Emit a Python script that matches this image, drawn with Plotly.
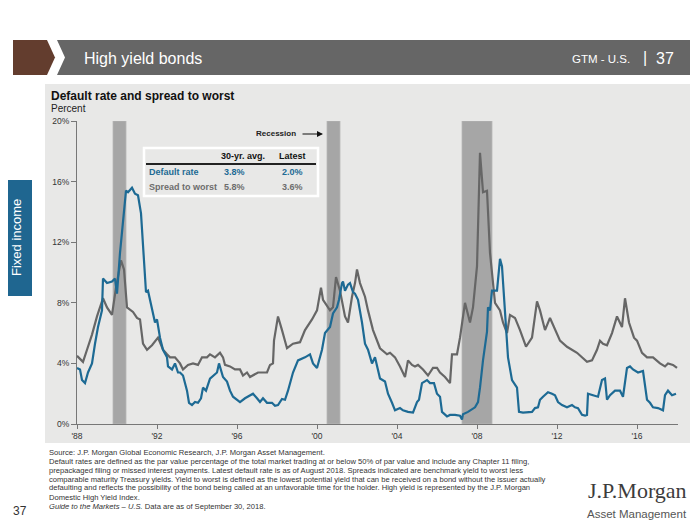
import plotly.graph_objects as go

# ---------------- data ----------------
default_years = [1988.00,1988.15,1988.25,1988.40,1988.55,1988.75,1988.90,1989.05,1989.25,1989.30,1989.50,1989.75,1989.90,1990.00,
    1990.15,1990.30,1990.45,1990.55,1990.75,1990.90,1991.05,1991.20,1991.30,1991.45,1991.55,1991.75,1991.90,1992.00,1992.15,
    1992.30,1992.50,1992.55,1992.75,1992.90,1993.05,1993.15,1993.30,1993.50,1993.60,1993.75,1993.90,1994.05,1994.20,1994.30,
    1994.45,1994.65,1994.80,1995.00,1995.10,1995.25,1995.30,1995.50,1995.65,1995.80,1996.00,1996.15,1996.40,1996.55,1996.80,
    1997.00,1997.15,1997.30,1997.50,1997.75,1997.90,1998.05,1998.25,1998.40,1998.55,1998.80,1999.05,1999.40,1999.65,1999.80,
    2000.00,2000.25,2000.40,2000.65,2000.80,2001.00,2001.10,2001.25,2001.30,2001.40,2001.55,2001.65,2001.80,2001.90,2002.05,
    2002.25,2002.40,2002.55,2002.75,2002.90,2003.05,2003.15,2003.40,2003.55,2003.75,2003.90,2004.15,2004.30,2004.55,2004.80,
    2005.00,2005.10,2005.25,2005.50,2005.65,2005.85,2006.00,2006.15,2006.25,2006.50,2006.65,2006.90,2007.15,2007.25,2007.30,
    2007.55,2007.90,2008.05,2008.15,2008.30,2008.50,2008.55,2008.65,2008.75,2009.00,2009.15,2009.25,2009.35,2009.45,2009.55,
    2009.75,2010.00,2010.10,2010.30,2010.75,2010.90,2011.05,2011.15,2011.30,2011.55,2011.75,2011.90,2012.05,2012.25,2012.50,
    2012.75,2012.90,2013.05,2013.25,2013.40,2013.50,2013.55,2013.80,2014.05,2014.25,2014.40,2014.50,2014.65,2014.90,2015.15,
    2015.30,2015.50,2015.65,2015.80,2016.05,2016.30,2016.50,2016.65,2016.80,2017.05,2017.30,2017.40,2017.55,2017.75,2017.95]
default_rate = [3.7,3.6,2.9,2.7,3.4,4.0,5.3,6.4,7.5,9.6,9.3,9.4,9.6,8.6,
    11.3,13.5,15.4,15.3,15.6,15.2,15.1,13.9,11.5,8.7,8.8,7.7,6.7,6.9,5.7,
    4.9,4.4,3.8,3.6,4.0,3.4,3.4,3.2,2.2,1.4,1.25,1.45,1.4,1.7,2.4,
    2.2,3.0,3.2,3.4,4.0,3.4,3.1,2.8,2.2,1.8,1.6,1.45,1.7,1.8,2.0,
    1.7,1.45,1.7,1.4,1.4,1.2,1.25,1.65,1.6,2.2,3.4,4.2,4.4,4.6,4.0,
    3.7,4.9,6.0,6.4,7.3,7.7,8.2,9.3,9.4,8.8,9.2,9.3,8.7,8.6,8.2,
    6.7,5.3,4.9,4.0,4.4,3.6,3.0,2.8,2.0,1.4,0.9,1.05,0.9,0.8,0.75,
    1.45,1.6,2.7,2.9,2.7,2.7,2.0,1.8,0.8,0.5,0.6,0.6,0.55,0.3,0.65,
    0.8,1.1,1.45,2.4,4.2,6.1,7.7,7.5,8.8,8.8,10.9,10.4,8.4,7.1,4.4,
    2.9,2.4,0.8,0.75,0.8,1.05,1.1,1.6,1.8,2.1,2.0,1.9,1.45,1.25,1.1,
    1.25,1.1,1.05,0.6,0.55,0.6,2.0,1.9,1.8,2.9,3.0,1.6,1.9,2.2,2.2,
    1.8,3.7,3.8,3.6,3.4,3.5,1.6,1.4,1.1,1.05,0.9,1.9,2.2,1.9,2.0]

spread_years = [1988.00,1988.15,1988.30,1988.50,1988.75,1989.00,1989.30,1989.50,1989.75,1989.95,1990.20,1990.35,1990.50,1990.80,
    1991.00,1991.15,1991.30,1991.50,1991.75,1992.05,1992.30,1992.50,1992.65,1992.90,1993.15,1993.30,1993.55,1993.80,1994.05,
    1994.25,1994.50,1994.65,1994.90,1995.15,1995.30,1995.40,1995.65,1995.90,1996.15,1996.30,1996.50,1996.65,1996.80,1997.05,
    1997.25,1997.50,1997.65,1997.80,1997.85,1998.05,1998.25,1998.50,1998.80,1999.15,1999.40,1999.75,2000.00,2000.20,2000.30,
    2000.65,2000.80,2000.95,2001.15,2001.40,2001.55,2001.75,2001.90,2002.00,2002.15,2002.40,2002.55,2002.80,2003.15,2003.30,
    2003.50,2003.65,2003.90,2004.15,2004.30,2004.40,2004.55,2004.75,2004.90,2005.05,2005.30,2005.55,2005.80,2006.00,2006.15,
    2006.40,2006.65,2006.75,2007.00,2007.15,2007.40,2007.65,2007.80,2008.00,2008.15,2008.30,2008.50,2008.65,2008.90,2009.15,
    2009.30,2009.50,2009.65,2009.90,2010.15,2010.45,2010.75,2011.00,2011.15,2011.40,2011.65,2012.00,2012.15,2012.50,2013.00,
    2013.50,2013.75,2014.00,2014.15,2014.30,2014.50,2014.75,2015.00,2015.25,2015.40,2015.60,2015.85,2016.00,2016.25,2016.50,
    2016.80,2017.15,2017.40,2017.55,2017.80,2018.00]
spread_to_worst = [4.5,4.3,4.1,4.9,5.9,7.1,8.3,7.7,7.2,9.0,10.8,10.2,7.7,7.4,
    7.0,6.9,5.3,4.9,5.2,5.7,4.9,4.6,4.4,4.4,4.0,3.6,3.9,4.0,3.9,
    4.4,4.4,4.6,4.4,4.7,4.4,3.9,3.8,3.6,3.6,3.2,3.4,3.1,3.2,3.4,
    3.4,3.4,3.9,4.0,5.5,7.1,6.2,5.0,5.3,5.4,6.2,6.9,7.5,9.0,8.2,
    7.5,7.7,9.7,8.8,7.1,6.7,8.4,9.3,10.2,9.3,8.4,7.5,6.2,5.0,4.8,
    4.6,4.7,4.4,3.8,3.4,3.1,4.2,3.9,3.8,3.9,3.6,3.2,3.7,3.7,3.4,
    3.1,2.7,4.6,4.6,5.7,8.0,6.7,7.7,10.4,17.9,15.3,15.4,11.3,8.0,7.5,
    6.7,6.0,7.2,7.0,6.2,5.1,5.7,8.1,7.5,6.2,7.0,5.9,5.5,5.1,4.7,
    4.1,4.2,4.9,5.5,5.3,5.2,6.0,7.1,6.4,8.3,6.7,5.7,5.5,4.7,4.4,
    4.4,4.0,3.8,4.0,3.9,3.7]

recession_start = [1989.80, 2000.50, 2007.25]
recession_end = [1990.45, 2001.15, 2008.75]

x_tick_years = [1988, 1992, 1996, 2000, 2004, 2008, 2012, 2016]
x_tick_labels = ["'88", "'92", "'96", "'00", "'04", "'08", "'12", "'16"]
y_tick_vals = [0, 4, 8, 12, 16, 20]
y_tick_labels = ["0%", "4%", "8%", "12%", "16%", "20%"]

table_rows = ["Default rate", "Spread to worst"]
table_avg = ["3.8%", "5.8%"]
table_latest = ["2.0%", "3.6%"]

# ---------------- style / layout ----------------
W, H = 700, 525
PAGE_OFF = 8                      # browser body margin
L, R, T, B = 77, 678, 121, 424   # plot area in page pixels
BLUE = "#1d6a94"
GRAY = "#666666"
SANS = "Liberation Sans, Arial, sans-serif"

def px(x):
    return (x - L) / (R - L)

def py(y):
    return (B - y) / (B - T)

fig = go.Figure()

fig.add_trace(go.Scatter(x=spread_years, y=spread_to_worst, mode="lines",
                         line=dict(color=GRAY, width=2.2), name="Spread to worst", hoverinfo="skip"))
fig.add_trace(go.Scatter(x=default_years, y=default_rate, mode="lines",
                         line=dict(color=BLUE, width=2.2), name="Default rate", hoverinfo="skip"))

shapes = []
# panel background
shapes.append(dict(type="rect", xref="paper", yref="paper", x0=px(45), x1=px(690), y0=py(443), y1=py(84),
                   fillcolor="#e8e8e7", line=dict(width=0), layer="below"))
# header
shapes.append(dict(type="path", xref="paper", yref="paper",
                   path=f"M {px(13)},{py(40)} L {px(47)},{py(40)} L {px(55)},{py(57.5)} L {px(47)},{py(75)} L {px(13)},{py(75)} Z",
                   fillcolor="#633d2e", line=dict(width=0), layer="below"))
shapes.append(dict(type="path", xref="paper", yref="paper",
                   path=f"M {px(57)},{py(40)} L {px(690)},{py(40)} L {px(690)},{py(75)} L {px(57)},{py(75)} L {px(65)},{py(57.5)} Z",
                   fillcolor="#666666", line=dict(width=0), layer="below"))
# left tab
shapes.append(dict(type="rect", xref="paper", yref="paper", x0=px(0), x1=px(32), y0=py(296), y1=py(180),
                   fillcolor="#1f6690", line=dict(width=0), layer="below"))
# recession bars
for s, e in zip(recession_start, recession_end):
    shapes.append(dict(type="rect", xref="x", yref="y", x0=s, x1=e, y0=0, y1=20,
                       fillcolor="#a6a6a6", line=dict(color="#b8b8b8", width=0.8), layer="below"))
# table frame
shapes.append(dict(type="rect", xref="paper", yref="paper", x0=px(144), x1=px(318), y0=py(196), y1=py(148),
                   line=dict(color="white", width=2.5), fillcolor="rgba(0,0,0,0)"))
shapes.append(dict(type="line", xref="paper", yref="paper", x0=px(146), x1=px(316), y0=py(164), y1=py(164),
                   line=dict(color="#222222", width=2)))
fig.update_layout(shapes=shapes)

ann = []
def text(x, y, s, size, color="#222222", family=SANS, xanchor="left", yanchor="middle", **kw):
    ann.append(dict(xref="paper", yref="paper", x=px(x), y=py(y), text=s, showarrow=False,
                    xanchor=xanchor, yanchor=yanchor, font=dict(size=size, color=color, family=family), **kw))

# header text
text(82, 58, "High yield bonds", 16, "white")
text(632, 59, "GTM - U.S.", 11.5, "white", xanchor="right")
text(645, 57, "|", 16, "white", xanchor="center")
text(676, 58, "37", 16, "white", xanchor="right")
# left tab text
ann.append(dict(xref="paper", yref="paper", x=px(16), y=py(238), text="Fixed income", showarrow=False,
                textangle=-90, xanchor="center", yanchor="middle",
                font=dict(size=13, color="white", family=SANS)))
# titles
text(49, 96, "<b>Default rate and spread to worst</b>", 12, "#111111")
text(49, 108, "Percent", 10, "#222222")
# recession label + arrow
text(298, 134, "<b>Recession</b>", 8, "#222222", xanchor="right")
ann.append(dict(xref="paper", yref="paper", axref="pixel", ayref="pixel",
                x=px(323), y=py(134), ax=-22, ay=0, text="", showarrow=True,
                arrowhead=2, arrowsize=1, arrowwidth=1.2, arrowcolor="#111111"))
# table
text(243, 156, "<b>30-yr. avg.</b>", 9, "#111111", xanchor="center")
text(292, 156, "<b>Latest</b>", 9, "#111111", xanchor="center")
row_y = [172, 187]
row_col = [BLUE, "#6d6d6d"]
for lab, a, l, yy, c in zip(table_rows, table_avg, table_latest, row_y, row_col):
    text(147, yy, f"<b>{lab}</b>", 9, c)
    text(234, yy, f"<b>{a}</b>", 9, c, xanchor="center")
    text(292, yy, f"<b>{l}</b>", 9, c, xanchor="center")

# footnotes
foot = [
    "Source: J.P. Morgan Global Economic Research, J.P. Morgan Asset Management.",
    "Default rates are defined as the par value percentage of the total market trading at or below 50% of par value and include any Chapter 11 filing,",
    "prepackaged filing or missed interest payments. Latest default rate is as of August 2018. Spreads indicated are benchmark yield to worst less",
    "comparable maturity Treasury yields. Yield to worst is defined as the lowest potential yield that can be received on a bond without the issuer actually",
    "defaulting and reflects the possibility of the bond being called at an unfavorable time for the holder. High yield is represented by the J.P. Morgan",
    "Domestic High Yield Index.",
    "<i>Guide to the Markets – U.S.</i> Data are as of September 30, 2018.",
]
for i, line in enumerate(foot):
    text(47, 452 + i * 9.0, line, 7.6, "#333333")
text(11, 511, "37", 12, "#333333")
# logo
text(637, 491, "J.P.Morgan", 22, "#3c3c3c", "Liberation Serif, Times New Roman, serif", xanchor="center")
text(637, 514, "Asset Management", 11.5, "#555555", xanchor="center")

fig.update_layout(annotations=ann)

fig.update_layout(
    width=W, height=H,
    margin=dict(l=L - PAGE_OFF, r=W - (R - PAGE_OFF), t=T - PAGE_OFF, b=H - (B - PAGE_OFF), pad=0),
    paper_bgcolor="white", plot_bgcolor="rgba(0,0,0,0)",
    showlegend=False,
    xaxis=dict(range=[1988, 2018.05], tickvals=x_tick_years, ticktext=x_tick_labels,
               showline=True, linecolor="#777777", linewidth=1, ticks="outside", ticklen=4,
               tickcolor="#777777", showgrid=False, zeroline=False,
               tickfont=dict(size=8.5, color="#333333", family=SANS)),
    yaxis=dict(range=[0, 20], tickvals=y_tick_vals, ticktext=y_tick_labels,
               showline=True, linecolor="#777777", linewidth=1, ticks="outside", ticklen=5,
               tickcolor="#777777", showgrid=False, zeroline=False,
               tickfont=dict(size=8.5, color="#333333", family=SANS)),
)

fig.write_html("out.html")
